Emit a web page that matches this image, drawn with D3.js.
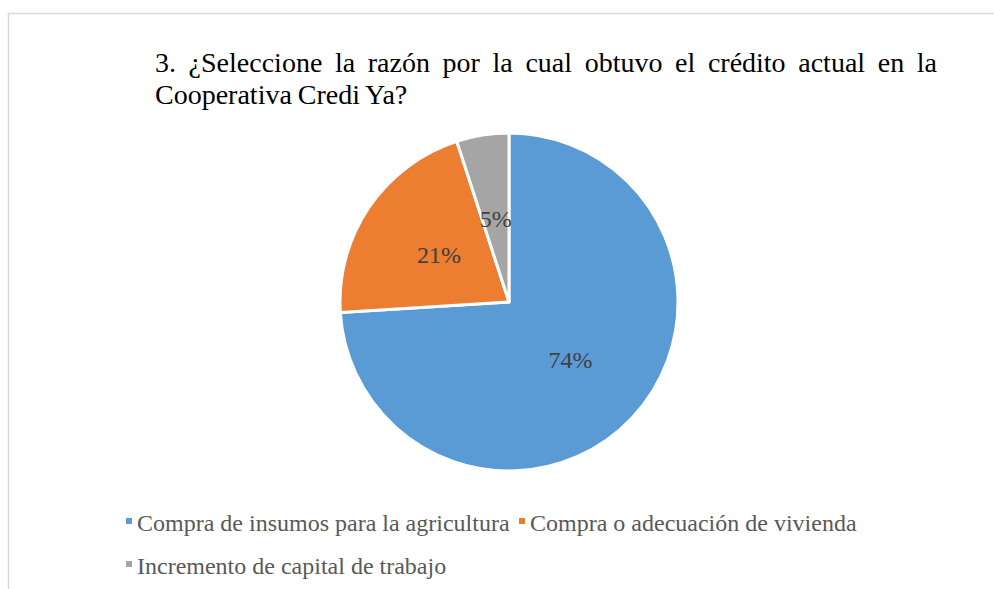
<!DOCTYPE html>
<html>
<head>
<meta charset="utf-8">
<script src="https://cdn.jsdelivr.net/npm/d3@7"></script>
<style>
  body { margin: 0; background: #fff; }
  svg { display: block; }
  text { font-family: "Liberation Serif", "Times New Roman", serif; }
</style>
</head>
<body>
<div id="chart"></div>
<script>
// chart data
const categories = [
  'Compra de insumos para la agricultura',
  'Compra o adecuación de vivienda',
  'Incremento de capital de trabajo'
];
const values = [74, 21, 5];
const colors = ['#5B9BD5', '#ED7D31', '#A5A5A5'];
const titleLines = [
  '3. ¿Seleccione la razón por la cual obtuvo el crédito actual en la',
  'Cooperativa Credi Ya?'
];

const width = 994, height = 589;
const serif = '"Liberation Serif", "Times New Roman", serif';
const svg = d3.select('#chart').append('svg')
  .attr('width', width).attr('height', height);

// chart frame (runs off the right and bottom edge)
svg.append('rect')
  .attr('x', 8.5).attr('y', 13.5)
  .attr('width', 1000).attr('height', 600)
  .attr('fill', '#fff').attr('stroke', '#d9d9d9').attr('stroke-width', 1.5);

// title, first line justified between the margins
const titleLeft = 155, titleRight = 937;
const title = svg.append('g')
  .attr('font-family', serif).attr('font-size', 28).attr('fill', '#000');
const words = titleLines[0].split(' ');
const wordNodes = words.map(w => title.append('text').attr('y', 72).text(w));
const widths = wordNodes.map(n => n.node().getComputedTextLength());
const gap = (titleRight - titleLeft - d3.sum(widths)) / (words.length - 1);
let cx = titleLeft;
wordNodes.forEach((n, i) => { n.attr('x', cx); cx += widths[i] + gap; });
title.append('text').attr('x', titleLeft).attr('y', 104)
  .attr('word-spacing', -1).text(titleLines[1]);

// pie
const center = [509, 302];
const radius = 169;
const pie = d3.pie().sort(null).value(d => d);
const arcs = pie(values);
const arc = d3.arc().innerRadius(0).outerRadius(radius);

const g = svg.append('g').attr('transform', `translate(${center})`);
g.selectAll('path').data(arcs).enter().append('path')
  .attr('d', arc)
  .attr('fill', (d, i) => colors[i])
  .attr('stroke', '#fff').attr('stroke-width', 3).attr('stroke-linejoin', 'round');

// data labels at the arc centroid (half the radius)
g.selectAll('text.lbl').data(arcs).enter().append('text')
  .attr('class', 'lbl')
  .attr('transform', d => `translate(${arc.centroid(d)})`)
  .attr('text-anchor', 'middle').attr('dy', '0.35em')
  .attr('font-family', serif).attr('font-size', 24).attr('fill', '#404040')
  .text(d => `${d.data}%`);

// legend
const legendItems = [
  { i: 0, x: 137, y: 531 },
  { i: 1, x: 530, y: 531 },
  { i: 2, x: 137, y: 574 }
];
const legend = svg.append('g')
  .attr('font-family', serif).attr('font-size', 24).attr('fill', '#595959');
legendItems.forEach(item => {
  legend.append('rect')
    .attr('x', item.x - 11).attr('y', item.y - 13)
    .attr('width', 6).attr('height', 6)
    .attr('fill', colors[item.i]);
  legend.append('text')
    .attr('x', item.x).attr('y', item.y)
    .text(categories[item.i]);
});
</script>
</body>
</html>
